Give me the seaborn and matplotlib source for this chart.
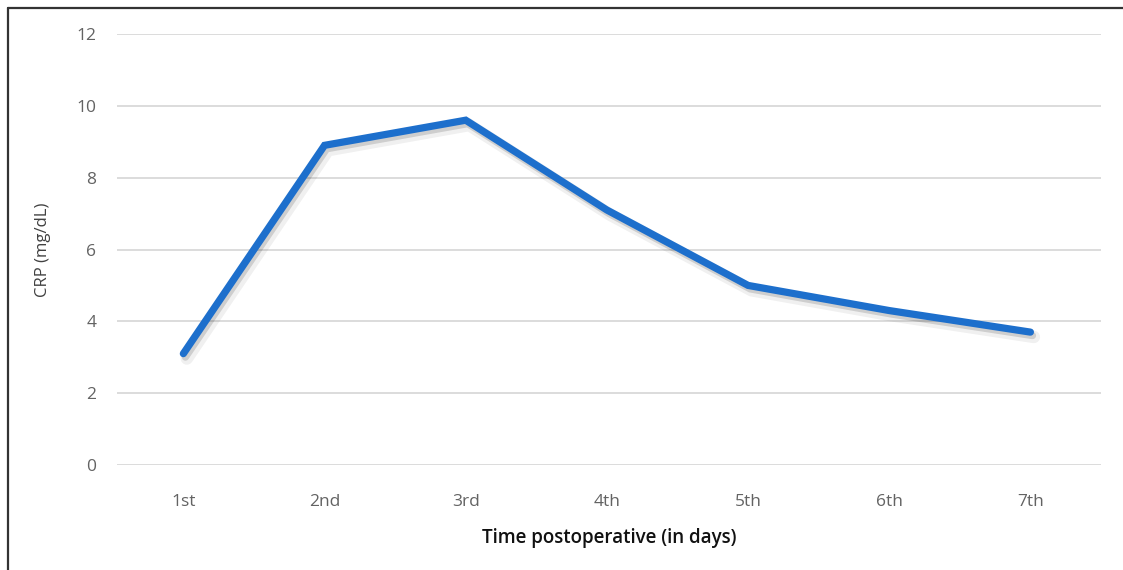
import matplotlib
matplotlib.use("Agg")
import matplotlib.pyplot as plt
import matplotlib.patheffects as pe
from matplotlib.lines import Line2D
import pandas as pd
import seaborn as sns

# Postoperative CRP course
days = ["1st", "2nd", "3rd", "4th", "5th", "6th", "7th"]
crp = [3.1, 8.9, 9.6, 7.1, 5.0, 4.3, 3.7]
y_ticks = [0, 2, 4, 6, 8, 10, 12]

sns.set_style("white")
plt.rcParams["font.family"] = ["Open Sans", "DejaVu Sans"]

df = pd.DataFrame({"day": days, "crp": crp})

fig = plt.figure(figsize=(11.23, 5.70), dpi=100)
ax = fig.add_axes([117 / 1123, 1 - 465 / 570, (1101 - 117) / 1123, (465 - 34) / 570])

sns.lineplot(
    data=df, x="day", y="crp", ax=ax, sort=False,
    color="#1d6fcc", linewidth=5.2, solid_capstyle="round", solid_joinstyle="miter",
    path_effects=[
        pe.SimpleLineShadow(offset=(2.5, -3.5), shadow_color="#000000", alpha=0.06,
                            linewidth=9),
        pe.SimpleLineShadow(offset=(1.5, -2.5), shadow_color="#000000", alpha=0.14),
        pe.Normal(),
    ],
)

ax.set_ylim(0, 12)
ax.set_xlim(-0.47, 6.5)
ax.set_yticks(y_ticks)
ax.set_yticklabels([str(v) for v in y_ticks])

ax.yaxis.grid(True, color="#d9d9d9", linewidth=1.3)
ax.xaxis.grid(False)
ax.set_axisbelow(True)
for s in ax.spines.values():
    s.set_visible(False)

ax.tick_params(axis="both", length=0, labelsize=12.5, labelcolor="#636363")
ax.tick_params(axis="y", pad=15)
ax.tick_params(axis="x", pad=21)

ax.set_xlabel("Time postoperative (in days)", fontsize=13.5, fontweight="semibold",
              color="#111111", labelpad=13)
ax.set_ylabel("CRP (mg/dL)", fontsize=12, color="#404040", labelpad=18)

# Frame along the left and top edges
fig.add_artist(Line2D([8 / 1123, 8 / 1123], [0, 1 - 8 / 570], transform=fig.transFigure,
                      color="#333333", linewidth=1.6))
fig.add_artist(Line2D([8 / 1123, 1], [1 - 8 / 570, 1 - 8 / 570], transform=fig.transFigure,
                      color="#333333", linewidth=1.6))

fig.savefig("out.png", dpi=100)
